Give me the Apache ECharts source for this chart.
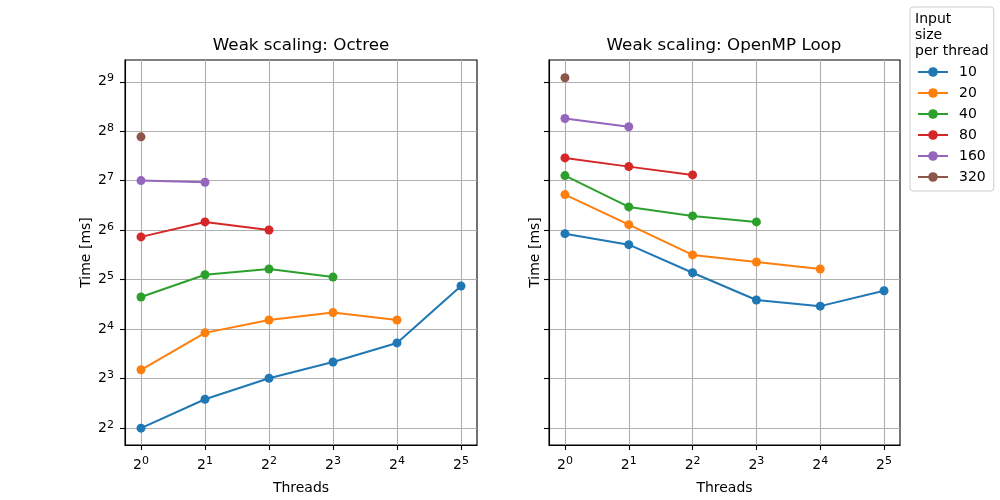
<!DOCTYPE html>
<html>
<head>
<meta charset="utf-8">
<script src="https://cdn.jsdelivr.net/npm/echarts@6/dist/echarts.min.js"></script>
<style>html,body{margin:0;padding:0;background:#fff}#c{width:1000px;height:500px}</style>
</head>
<body>
<div id="c"></div>
<script>
// Threads (x) and input sizes per thread (legend)
const threads = [1, 2, 4, 8, 16, 32];
const sizes = ['10', '20', '40', '80', '160', '320'];
const xTickExps = [0, 1, 2, 3, 4, 5];
const yTickExps = [2, 3, 4, 5, 6, 7, 8, 9];

// Octree times [ms]
const octree10 = [4.0, 6.0, 8.05, 10.1, 13.2, 29.3];
const octree20 = [9.06, 15.2, 18.2, 20.2, 18.2];
const octree40 = [25.1, 34.3, 37.2, 33.2];
const octree80 = [58.3, 71.9, 64.2];
const octree160 = [128.3, 125.3];
const octree320 = [236.7];

// OpenMP loop times [ms]
const omp10 = [61.0, 52.3, 35.3, 24.1, 22.1, 27.4];
const omp20 = [105.4, 69.2, 45.3, 41.0, 37.2];
const omp40 = [137.6, 88.7, 78.2, 71.9];
const omp80 = [176.3, 156.0, 138.9];
const omp160 = [306.0, 272.5];
const omp320 = [541.6];

const colors = ['#1f77b4', '#ff7f0e', '#2ca02c', '#d62728', '#9467bd', '#8c564b'];
const FONT = 'DejaVu Sans';

const octree = [octree10, octree20, octree40, octree80, octree160, octree320];
const omp = [omp10, omp20, omp40, omp80, omp160, omp320];

function pts(vals) {
  return vals.map((v, i) => [Math.log2(threads[i]), Math.log2(v)]);
}

const rich = {
  b: { fontSize: 14, fontFamily: FONT, color: '#000' },
  s: { fontSize: 11, fontFamily: FONT, color: '#000', padding: [0, 0, 7, 0] }
};
const fmt = v => '{b|2}{s|' + Math.round(v) + '}';

function xAxis(gi) {
  return {
    type: 'value', gridIndex: gi, min: -0.25, max: 5.25, minInterval: 1, maxInterval: 1,
    name: 'Threads', nameLocation: 'middle', nameGap: 36,
    nameTextStyle: { fontSize: 14, fontFamily: FONT, color: '#000' },
    axisLine: { show: true, onZero: false, lineStyle: { color: '#000', width: 1.1 } },
    axisTick: { show: true, length: 5, customValues: xTickExps, lineStyle: { color: '#000', width: 1.1 } },
    axisLabel: { show: true, margin: 11, customValues: xTickExps, formatter: fmt, rich: rich },
    splitLine: { show: true, lineStyle: { color: '#b0b0b0', width: 1.1 } }
  };
}
function yAxis(gi, showLabels, nameGap) {
  return {
    type: 'value', gridIndex: gi, min: 1.66, max: 9.44, minInterval: 1, maxInterval: 1,
    name: 'Time [ms]', nameLocation: 'middle', nameGap: nameGap,
    nameTextStyle: { fontSize: 14, fontFamily: FONT, color: '#000' },
    axisLine: { show: true, onZero: false, lineStyle: { color: '#000', width: 1.1 } },
    axisTick: { show: true, length: 5, customValues: yTickExps, lineStyle: { color: '#000', width: 1.1 } },
    axisLabel: { show: showLabels, margin: 11, customValues: yTickExps, formatter: fmt, rich: rich },
    splitLine: { show: true, lineStyle: { color: '#b0b0b0', width: 1.1 } }
  };
}

const series = [];
[octree, omp].forEach((group, gi) => {
  group.forEach((vals, si) => {
    series.push({
      type: 'line', name: sizes[si], xAxisIndex: gi, yAxisIndex: gi,
      data: pts(vals), symbol: 'circle', symbolSize: 9, showSymbol: true,
      itemStyle: { color: colors[si] },
      lineStyle: { color: colors[si], width: 2 },
      emphasis: { disabled: true }, animation: false, z: 3
    });
  });
});

const chart = echarts.init(document.getElementById('c'), null, { renderer: 'canvas' });
chart.setOption({
  animation: false,
  backgroundColor: '#fff',
  grid: [
    { left: 125, top: 60, width: 352, height: 385, show: true, borderColor: '#000', borderWidth: 1.1, containLabel: false },
    { left: 549, top: 60, width: 351, height: 385, show: true, borderColor: '#000', borderWidth: 1.1, containLabel: false }
  ],
  xAxis: [xAxis(0), xAxis(1)],
  yAxis: [yAxis(0, true, 32), yAxis(1, false, 7)],
  legend: {
    data: sizes, orient: 'vertical', left: 910, top: 7,
    padding: [57, 8, 6, 7], itemGap: 5, itemWidth: 30, itemHeight: 12,
    borderColor: '#cccccc', borderWidth: 1, borderRadius: 3, backgroundColor: '#fff',
    textStyle: { fontSize: 14, fontFamily: FONT, color: '#000', lineHeight: 16, padding: [0, 0, 0, 6] }
  },
  graphic: [
    { type: 'text', x: 301, y: 46, style: { text: 'Weak scaling: Octree', textAlign: 'center', textVerticalAlign: 'middle', fontSize: 16.7, fontFamily: FONT, fill: '#000' } },
    { type: 'text', x: 724, y: 46, style: { text: 'Weak scaling: OpenMP Loop', textAlign: 'center', textVerticalAlign: 'middle', fontSize: 16.7, fontFamily: FONT, fill: '#000' } },
    { type: 'text', x: 915, y: 11, z: 100, style: { text: 'Input\nsize\nper thread', fontSize: 14, lineHeight: 16.3, fontFamily: FONT, fill: '#000' } }
  ],
  series: series
});
</script>
</body>
</html>
